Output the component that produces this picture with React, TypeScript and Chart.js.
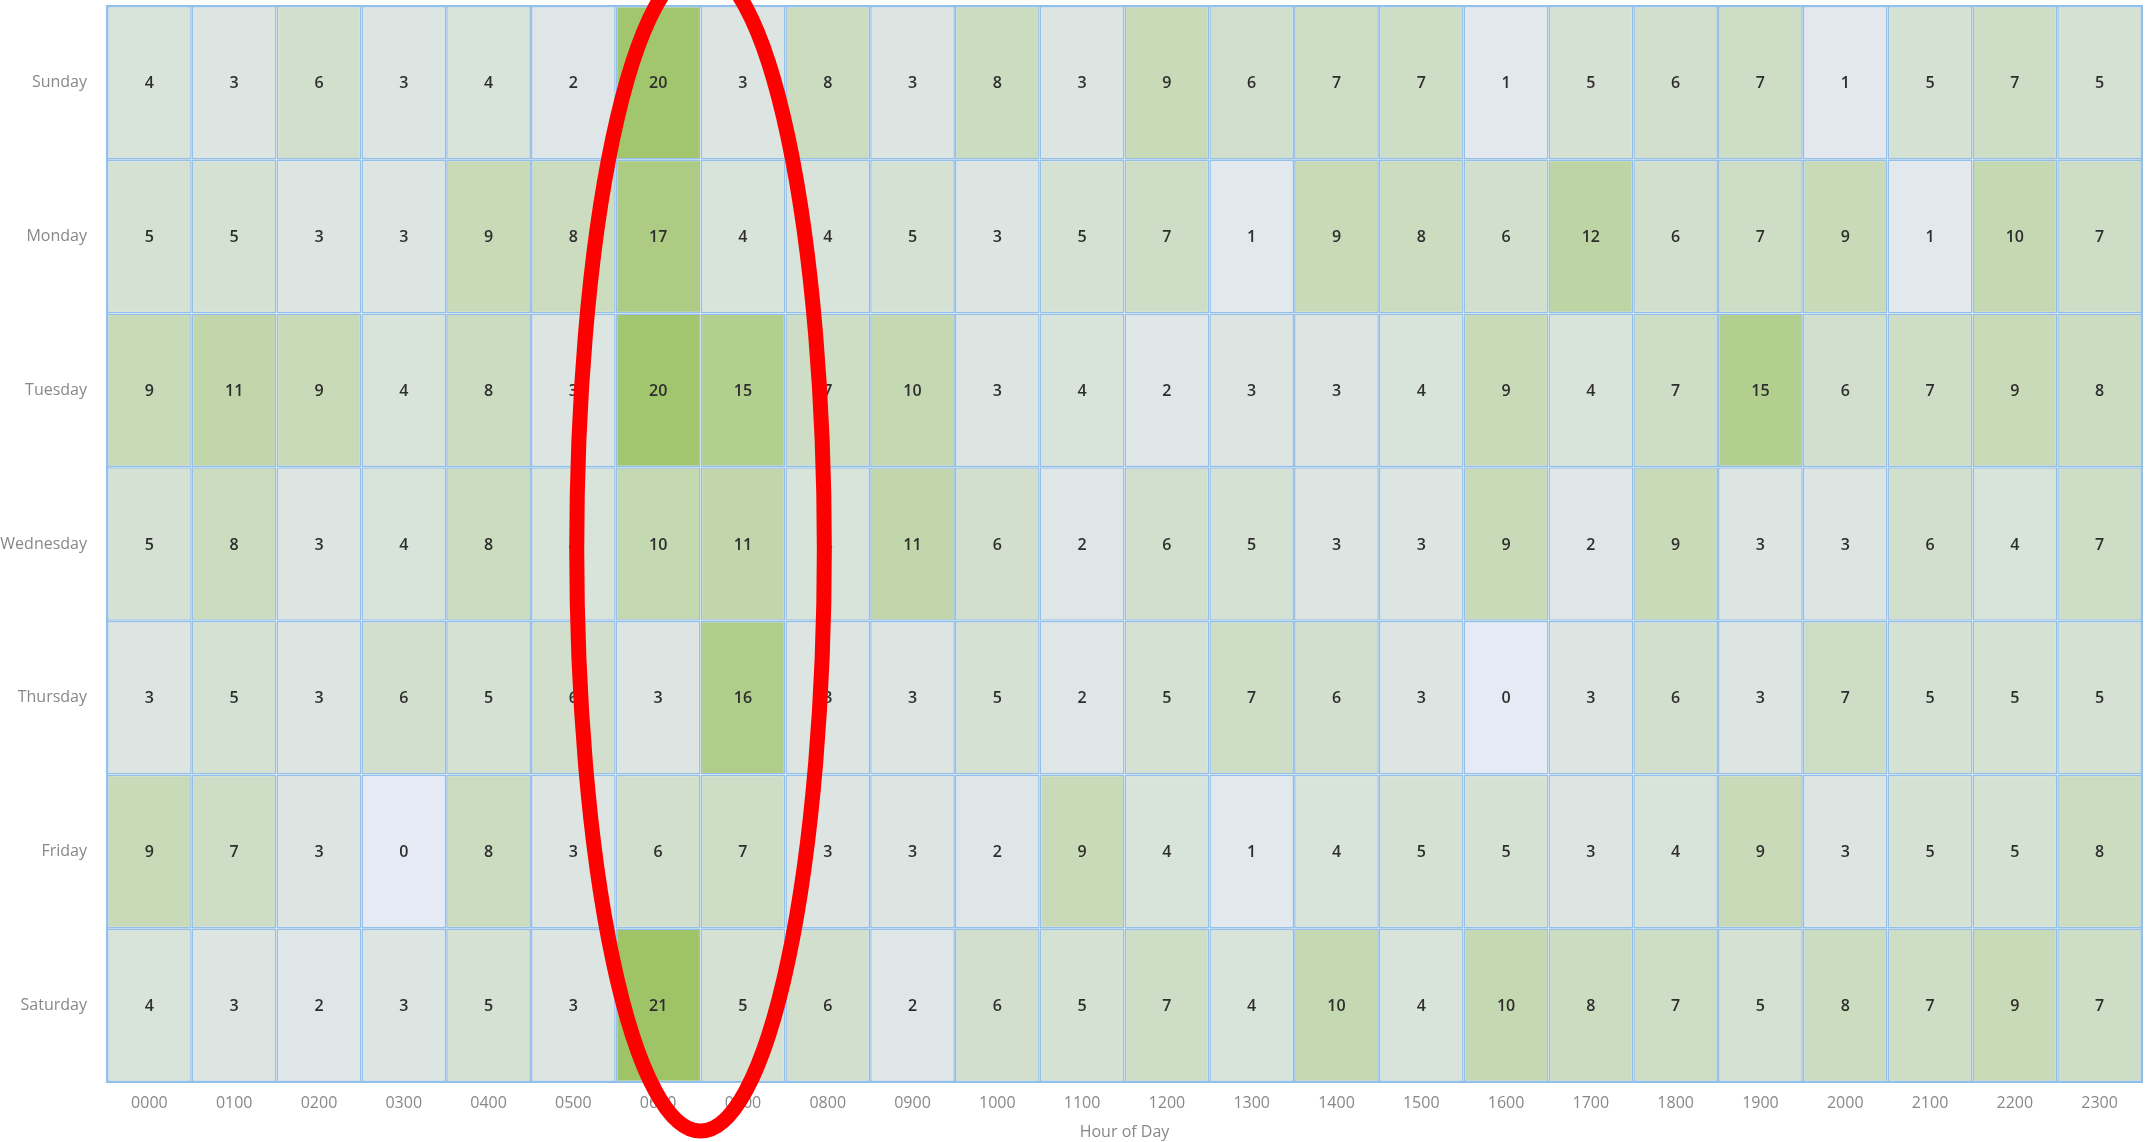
import React, { useEffect, useRef } from 'react';
import { Chart, registerables } from 'chart.js';

Chart.register(...registerables);

const hours = ['0000', '0100', '0200', '0300', '0400', '0500', '0600', '0700', '0800', '0900', '1000', '1100',
  '1200', '1300', '1400', '1500', '1600', '1700', '1800', '1900', '2000', '2100', '2200', '2300'];
const days = ['Sunday', 'Monday', 'Tuesday', 'Wednesday', 'Thursday', 'Friday', 'Saturday'];

const sunday = [4, 3, 6, 3, 4, 2, 20, 3, 8, 3, 8, 3, 9, 6, 7, 7, 1, 5, 6, 7, 1, 5, 7, 5];
const monday = [5, 5, 3, 3, 9, 8, 17, 4, 4, 5, 3, 5, 7, 1, 9, 8, 6, 12, 6, 7, 9, 1, 10, 7];
const tuesday = [9, 11, 9, 4, 8, 3, 20, 15, 7, 10, 3, 4, 2, 3, 3, 4, 9, 4, 7, 15, 6, 7, 9, 8];
const wednesday = [5, 8, 3, 4, 8, 4, 10, 11, 4, 11, 6, 2, 6, 5, 3, 3, 9, 2, 9, 3, 3, 6, 4, 7];
const thursday = [3, 5, 3, 6, 5, 6, 3, 16, 3, 3, 5, 2, 5, 7, 6, 3, 0, 3, 6, 3, 7, 5, 5, 5];
const friday = [9, 7, 3, 0, 8, 3, 6, 7, 3, 3, 2, 9, 4, 1, 4, 5, 5, 3, 4, 9, 3, 5, 5, 8];
const saturday = [4, 3, 2, 3, 5, 3, 21, 5, 6, 2, 6, 5, 7, 4, 10, 4, 10, 8, 7, 5, 8, 7, 9, 7];

const xTitle = 'Hour of Day';

const valueRows = [sunday, monday, tuesday, wednesday, thursday, friday, saturday];

const LOW = [230, 234, 245];
const HIGH = [159, 196, 103];

function heatColor(v: number, min: number, max: number) {
  const t = max === min ? 0 : (v - min) / (max - min);
  const c = LOW.map((l, i) => Math.round(l + (HIGH[i] - l) * t));
  return `rgb(${c[0]},${c[1]},${c[2]})`;
}

const FONT = '"Open Sans", "DejaVu Sans", sans-serif';
const LINE = '#94bfe8';

export default function App() {
  const ref = useRef<HTMLCanvasElement>(null);

  useEffect(() => {
    if (!ref.current) return;
    const all = valueRows.flat();
    const min = Math.min(...all);
    const max = Math.max(...all);

    const cellLabels = {
      id: 'cellLabels',
      afterDatasetsDraw(chart: any) {
        const ctx = chart.ctx;
        ctx.save();
        const a = chart.chartArea;
        ctx.strokeStyle = LINE;
        ctx.lineWidth = 2;
        ctx.strokeRect(a.left, a.top, a.right - a.left, a.bottom - a.top);
        ctx.fillStyle = '#2e2e2e';
        ctx.font = `600 16px ${FONT}`;
        ctx.textAlign = 'center';
        ctx.textBaseline = 'middle';
        chart.data.datasets.forEach((ds: any, di: number) => {
          const meta = chart.getDatasetMeta(di);
          meta.data.forEach((el: any, j: number) => {
            const p = el.getProps(['x', 'y', 'base'], true);
            ctx.fillText(String(valueRows[di][j]), p.x, (p.y + p.base) / 2 + 1);
          });
        });
        ctx.restore();
      },
    };

    const ellipse = {
      id: 'ellipse',
      afterDraw(chart: any) {
        const xs = chart.scales.x;
        const ys = chart.scales.y;
        const x6 = xs.getPixelForValue(6);
        const x7 = xs.getPixelForValue(7);
        const cx = (x6 + x7) / 2;
        const cellW = x7 - x6;
        const cy = ys.getPixelForValue(3.5) + 5;
        const h = Math.abs(ys.getPixelForValue(7) - ys.getPixelForValue(0));
        const ctx = chart.ctx;
        ctx.save();
        ctx.beginPath();
        ctx.ellipse(cx, cy, cellW * 1.46, h * 0.541, 0, 0, Math.PI * 2);
        ctx.strokeStyle = '#ff0000';
        ctx.lineWidth = 15;
        ctx.stroke();
        ctx.restore();
      },
    };

    const chart = new Chart(ref.current, {
      type: 'bar',
      data: {
        labels: hours,
        datasets: days.map((d, i) => ({
          label: d,
          data: hours.map(() => [i, i + 1]),
          backgroundColor: valueRows[i].map((v) => heatColor(v, min, max)),
          borderColor: LINE,
          borderWidth: 1.6,
          borderSkipped: false,
          inflateAmount: 0,
          barPercentage: 1,
          categoryPercentage: 1,
          grouped: false,
        })) as any,
      },
      options: {
        animation: false,
        responsive: false,
        layout: { padding: { top: 6, right: 9, left: 0, bottom: 0 } },
        plugins: {
          legend: { display: false },
          tooltip: { enabled: false },
        },
        scales: {
          x: {
            type: 'category',
            offset: true,
            grid: { display: false, drawTicks: false },
            border: { display: false },
            ticks: {
              padding: 12,
              color: '#888',
              font: { family: FONT, size: 16 },
              maxRotation: 0,
              autoSkip: false,
            },
            title: {
              display: true,
              text: xTitle,
              color: '#888',
              font: { family: FONT, size: 16 },
              padding: { top: 0, bottom: 0 },
            },
            afterFit: (s: any) => {
              s.height = 60;
              s.paddingLeft = 0;
              s.paddingRight = 0;
            },
          },
          y: {
            type: 'linear',
            min: 0,
            max: 7,
            reverse: true,
            grid: { display: false, drawTicks: false },
            border: { display: false },
            ticks: {
              padding: 20,
              color: '#888',
              font: { family: FONT, size: 16 },
              autoSkip: false,
              callback: (_v: any, i: number) => days[i],
            },
            afterBuildTicks: (s: any) => {
              s.ticks = days.map((_, i) => ({ value: i + 0.5 }));
            },
            afterFit: (s: any) => {
              s.width = 107;
              s.paddingTop = 0;
              s.paddingBottom = 0;
            },
          },
        },
      },
      plugins: [cellLabels, ellipse],
    });
    return () => chart.destroy();
  }, []);

  return (
    <div style={{ position: 'fixed', left: 0, top: 0, width: 2151, height: 1142, background: '#fff' }}>
      <canvas ref={ref} width={2151} height={1142} style={{ display: 'block' }} />
    </div>
  );
}
